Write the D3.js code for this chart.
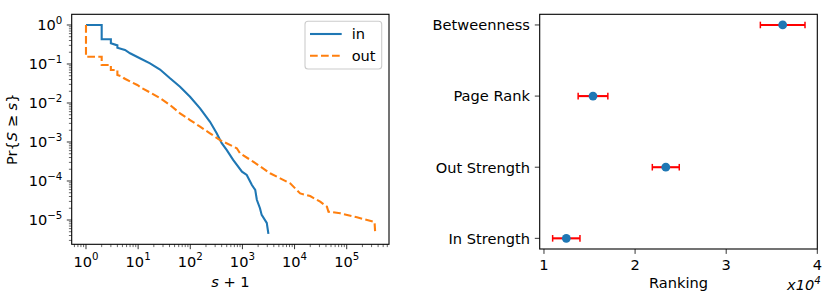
<!DOCTYPE html>
<html><head><meta charset="utf-8">
<script src="https://cdn.jsdelivr.net/npm/d3@7"></script>
<style>body{margin:0;background:#fff}svg{display:block}text{font-family:"DejaVu Sans",sans-serif;fill:#000}</style>
</head><body>
<svg id="c" width="831" height="300"></svg>
<script>
// ---- Left panel data: CCDF of strengths (x = s+1, y = Pr{S>=s})
const inX = [1,2,2,3,3,4,4,5,5.6,7,10.8,16.9,26.3,40.9,63.6,98.9,154,239,321,401,502,664,980,1210,1520,1760,1890,2170,2340,2930,3150];
const inP = [1,1,0.43,0.43,0.34,0.3,0.26,0.24,0.229,0.188,0.14,0.104,0.0722,0.043,0.0262,0.0145,0.0073,0.0033,0.00167,9.3e-4,6.2e-4,3.5e-4,1.74e-4,1.43e-4,7.9e-5,5.9e-5,3.3e-5,2.0e-5,1.35e-5,8.4e-6,4.4e-6];
const outX = [1,1,2,2,3,3,4,4,5,5.36,7.2,9.64,12,17.4,27,40.9,63.6,98.9,154,239,372,780,903,1630,3390,5300,8240,12800,19900,31000,41700,44700,75000,157000,342000,352000];
const outP = [1,0.154,0.154,0.094,0.094,0.07,0.07,0.052,0.047,0.043,0.035,0.029,0.0238,0.0183,0.013,0.0089,0.00544,0.00366,0.00247,0.00167,0.00112,6.9e-4,5.1e-4,3.1e-4,1.58e-4,1.17e-4,8.7e-5,4.8e-5,4.1e-5,2.95e-5,2.2e-5,1.63e-5,1.49e-5,1.17e-5,8.9e-6,4.6e-6];
const seriesNames = ["in","out"];
const xTickExp = [0,1,2,3,4,5];
const yTickExp = [0,-1,-2,-3,-4,-5];

// ---- Right panel data
const measures = ["In Strength","Out Strength","Page Rank","Betweenness"];
const ranking = [12450, 23370, 15380, 36200];
const rankErr = [1500, 1480, 1630, 2450];
const rankTicks = [1,2,3,4];

const svg = d3.select("#c");
const blue = "#1f77b4", orange = "#ff7f0e";
const FS = 14.6;

function supLabel(sel, base, exp){
  sel.append("tspan").text(base);
  sel.append("tspan").attr("dy",-6.4).attr("font-size",FS*0.7).text(exp);
}

// ================= LEFT PANEL =================
const L = {x0:71.7, x1:389, y0:14.3, y1:244.3};
const x = d3.scaleLog().domain([Math.pow(10,-0.274), Math.pow(10,5.811)]).range([L.x0,L.x1]);
const y = d3.scaleLog().domain([Math.pow(10,-5.623), Math.pow(10,0.274)]).range([L.y1,L.y0]);
const gL = svg.append("g");

// minor ticks
const xMinor=[], yMinor=[];
for(let e=-1;e<=6;e++) for(let m=2;m<=9;m++){const v=m*Math.pow(10,e); if(v>=x.domain()[0]&&v<=x.domain()[1]) xMinor.push(v);}
for(let e=-6;e<=0;e++) for(let m=2;m<=9;m++){const v=m*Math.pow(10,e); if(v>=y.domain()[0]&&v<=y.domain()[1]) yMinor.push(v);}
gL.selectAll(".xm").data(xMinor).join("line").attr("x1",d=>x(d)).attr("x2",d=>x(d)).attr("y1",L.y1).attr("y2",L.y1+2.8).attr("stroke","#000").attr("stroke-width",0.6);
gL.selectAll(".ym").data(yMinor).join("line").attr("y1",d=>y(d)).attr("y2",d=>y(d)).attr("x1",L.x0).attr("x2",L.x0-2.8).attr("stroke","#000").attr("stroke-width",0.6);
// major ticks
gL.selectAll(".xM").data(xTickExp).join("line").attr("x1",d=>x(Math.pow(10,d))).attr("x2",d=>x(Math.pow(10,d))).attr("y1",L.y1).attr("y2",L.y1+4.9).attr("stroke","#000").attr("stroke-width",0.8);
gL.selectAll(".yM").data(yTickExp).join("line").attr("y1",d=>y(Math.pow(10,d))).attr("y2",d=>y(Math.pow(10,d))).attr("x1",L.x0).attr("x2",L.x0-4.9).attr("stroke","#000").attr("stroke-width",0.8);
gL.selectAll(".xl").data(xTickExp).join("text").attr("x",d=>x(Math.pow(10,d))).attr("y",266.7).attr("text-anchor","middle").attr("font-size",FS)
  .each(function(d){supLabel(d3.select(this),"10",String(d));});
gL.selectAll(".yl").data(yTickExp).join("text").attr("x",62.3).attr("y",d=>y(Math.pow(10,d))+5.3).attr("text-anchor","end").attr("font-size",FS)
  .each(function(d){supLabel(d3.select(this),"10",d<0?"\u2212"+(-d):String(d));});

// lines
svg.append("clipPath").attr("id","clipL").append("rect").attr("x",L.x0).attr("y",L.y0).attr("width",L.x1-L.x0).attr("height",L.y1-L.y0);
const line = d3.line().x(d=>x(d[0])).y(d=>y(d[1]));
gL.append("path").datum(inX.map((v,i)=>[v,inP[i]])).attr("d",line).attr("fill","none").attr("stroke",blue).attr("stroke-width",2.1).attr("clip-path","url(#clipL)");
gL.append("path").datum(outX.map((v,i)=>[v,outP[i]])).attr("d",line).attr("fill","none").attr("stroke",orange).attr("stroke-width",2.1).attr("stroke-dasharray","7.7,3.3").attr("clip-path","url(#clipL)");

// frame
gL.append("rect").attr("x",L.x0).attr("y",L.y0).attr("width",L.x1-L.x0).attr("height",L.y1-L.y0).attr("fill","none").attr("stroke","#000").attr("stroke-width",1.1);

// labels
const xlab = gL.append("text").attr("x",(L.x0+L.x1)/2).attr("y",286.5).attr("text-anchor","middle").attr("font-size",FS);
xlab.append("tspan").attr("font-style","italic").text("s");
xlab.append("tspan").text(" + 1");
const ylab = gL.append("text").attr("transform",`translate(16.5,${(L.y0+L.y1)/2}) rotate(-90)`).attr("text-anchor","middle").attr("font-size",FS);
ylab.append("tspan").text("Pr{");
ylab.append("tspan").attr("font-style","italic").text("S");
ylab.append("tspan").text(" \u2265 ");
ylab.append("tspan").attr("font-style","italic").text("s");
ylab.append("tspan").text("}");

// legend
const lg = gL.append("g");
lg.append("rect").attr("x",305).attr("y",21.3).attr("width",76.7).attr("height",47.7).attr("rx",3).attr("fill","#fff").attr("fill-opacity",0.8).attr("stroke","#cccccc").attr("stroke-width",1.1);
const lgY=[34,55.7], lgC=[blue,orange], lgD=[null,"7.7,3.3"];
seriesNames.forEach((n,i)=>{
  lg.append("line").attr("x1",310).attr("x2",341.7).attr("y1",lgY[i]).attr("y2",lgY[i]).attr("stroke",lgC[i]).attr("stroke-width",2.1).attr("stroke-dasharray",lgD[i]);
  lg.append("text").attr("x",351.7).attr("y",lgY[i]+5.3).attr("font-size",FS).text(n);
});

// ================= RIGHT PANEL =================
const R = {x0:539.7, x1:817.3, y0:14.3, y1:249};
const xr = d3.scaleLinear().domain([0.953*1e4, 4.0*1e4]).range([R.x0,R.x1]);
const yr = d3.scaleLinear().domain([-0.15,3.15]).range([R.y1,R.y0]);
const gR = svg.append("g");
gR.selectAll(".xt").data(rankTicks).join("line").attr("x1",d=>xr(d*1e4)).attr("x2",d=>xr(d*1e4)).attr("y1",R.y1).attr("y2",R.y1+4.9).attr("stroke","#000").attr("stroke-width",0.8);
gR.selectAll(".xtl").data(rankTicks).join("text").attr("x",d=>xr(d*1e4)).attr("y",269.8).attr("text-anchor","middle").attr("font-size",FS).text(d=>d);
gR.selectAll(".yt").data(measures).join("line").attr("y1",(d,i)=>yr(i)).attr("y2",(d,i)=>yr(i)).attr("x1",R.x0).attr("x2",R.x0-4.9).attr("stroke","#000").attr("stroke-width",0.8);
gR.selectAll(".ytl").data(measures).join("text").attr("x",R.x0-9.8).attr("y",(d,i)=>yr(i)+5.3).attr("text-anchor","end").attr("font-size",FS).text(d=>d);

// error bars
measures.forEach((m,i)=>{
  const yy=yr(i), a=xr(ranking[i]-rankErr[i]), b=xr(ranking[i]+rankErr[i]);
  gR.append("line").attr("x1",a).attr("x2",b).attr("y1",yy).attr("y2",yy).attr("stroke","red").attr("stroke-width",2.1);
  [a,b].forEach(c=>gR.append("line").attr("x1",c).attr("x2",c).attr("y1",yy-3.3).attr("y2",yy+3.3).attr("stroke","red").attr("stroke-width",1.5));
});
gR.selectAll(".pt").data(measures).join("circle").attr("cx",(d,i)=>xr(ranking[i])).attr("cy",(d,i)=>yr(i)).attr("r",4.4).attr("fill",blue);

gR.append("rect").attr("x",R.x0).attr("y",R.y0).attr("width",R.x1-R.x0).attr("height",R.y1-R.y0).attr("fill","none").attr("stroke","#000").attr("stroke-width",1.1);
gR.append("text").attr("x",(R.x0+R.x1)/2).attr("y",288.3).attr("text-anchor","middle").attr("font-size",FS).text("Ranking");
const off = gR.append("text").attr("x",R.x1+3.5).attr("y",290).attr("text-anchor","end").attr("font-size",FS).attr("font-style","italic");
off.append("tspan").text("x10");
off.append("tspan").attr("dy",-6.4).attr("font-size",FS*0.7).text("4");
</script>
</body></html>
